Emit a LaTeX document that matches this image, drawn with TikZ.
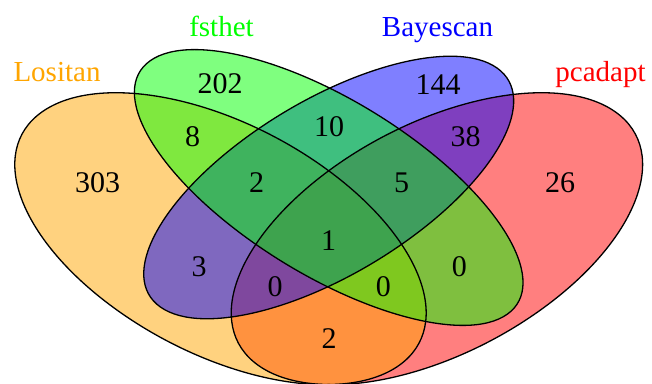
\documentclass[tikz,border=0pt]{standalone}
\usepackage{fontspec}
\setmainfont{Liberation Serif}
\definecolor{cLos}{RGB}{255,165,0}
\definecolor{cFst}{RGB}{0,255,0}
\definecolor{cBay}{RGB}{0,0,255}
\definecolor{cPca}{RGB}{255,0,0}
\begin{document}
\begin{tikzpicture}[x=1pt,y=1pt,
  setfill/.style={fill opacity=0.5},
  outline/.style={draw=black,line width=1.3pt},
  count/.style={anchor=base,inner sep=0pt,font=\fontsize{30}{30}\selectfont},
  setname/.style={anchor=base,inner sep=0pt,font=\fontsize{29}{29}\selectfont}]
\useasboundingbox (0,0) rectangle (652,383);
\begin{scope}
  \clip (0,0) rectangle (652,383);
  % ellipses in unit coordinates, stretched to the canvas
  \begin{scope}[cm={721.5,0,0,512,(-32.05pt,-96.34pt)}]
    % fills, painted in this order: pcadapt, Lositan, Bayescan, fsthet
    \begin{scope}[shift={(0.65,0.47)},rotate=45]
      \fill[cPca,setfill] (0,0) ellipse [x radius=0.35,y radius=0.2];
    \end{scope}
    \begin{scope}[shift={(0.35,0.47)},rotate=135]
      \fill[cLos,setfill] (0,0) ellipse [x radius=0.35,y radius=0.2];
    \end{scope}
    \begin{scope}[shift={(0.5,0.57)},rotate=45]
      \fill[cBay,setfill] (0,0) ellipse [x radius=0.33,y radius=0.15];
    \end{scope}
    \begin{scope}[shift={(0.5,0.57)},rotate=135]
      \fill[cFst,setfill] (0,0) ellipse [x radius=0.35,y radius=0.15];
    \end{scope}
    % outlines
    \begin{scope}[shift={(0.65,0.47)},rotate=45]
      \path[outline] (0,0) ellipse [x radius=0.35,y radius=0.2];
    \end{scope}
    \begin{scope}[shift={(0.35,0.47)},rotate=135]
      \path[outline] (0,0) ellipse [x radius=0.35,y radius=0.2];
    \end{scope}
    \begin{scope}[shift={(0.5,0.57)},rotate=45]
      \path[outline] (0,0) ellipse [x radius=0.33,y radius=0.15];
    \end{scope}
    \begin{scope}[shift={(0.5,0.57)},rotate=135]
      \path[outline] (0,0) ellipse [x radius=0.35,y radius=0.15];
    \end{scope}
  \end{scope}
\end{scope}
% set names
\node[setname,text=cLos] (nLos) at (57,301) {Lositan};
\node[setname,text=cFst] (nFst) at (221.5,346) {fsthet};
\node[setname,text=cBay] (nBay) at (437.5,346) {Bayescan};
\node[setname,text=cPca] (nPca) at (600.5,301) {pcadapt};
% region counts
\node[count] (rL)    at (97.5,190)  {303};
\node[count] (rF)    at (220,289)   {202};
\node[count] (rB)    at (438,288)   {144};
\node[count] (rP)    at (560,190)   {26};
\node[count] (rLF)   at (192.5,236) {8};
\node[count] (rFB)   at (329,246)   {10};
\node[count] (rBP)   at (465.5,236) {38};
\node[count] (rLFB)  at (256.7,190) {2};
\node[count] (rFBP)  at (401.5,190) {5};
\node[count] (rAll)  at (328.5,133) {1};
\node[count] (rLB)   at (199,107)   {3};
\node[count] (rFP)   at (459.3,107) {0};
\node[count] (rLBP)  at (275,86.5)  {0};
\node[count] (rLFP)  at (383.3,86.5){0};
\node[count] (rLP)   at (329,35)    {2};
\end{tikzpicture}
\end{document}
